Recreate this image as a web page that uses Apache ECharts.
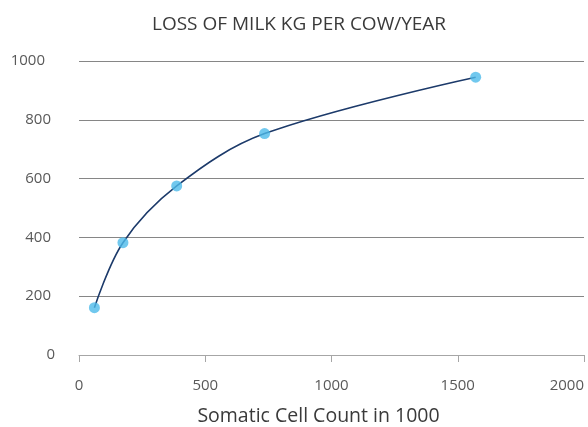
<!DOCTYPE html>
<html>
<head>
<meta charset="utf-8">
<script src="https://cdn.jsdelivr.net/npm/echarts@6/dist/echarts.min.js"></script>
<style>
html,body{margin:0;padding:0;background:#fff;}
#chart{width:588px;height:427px;}
</style>
</head>
<body>
<div id="chart"></div>
<script>
const chartTitle = 'LOSS OF MILK KG PER COW/YEAR';
const xAxisName = 'Somatic Cell Count in 1000';
const somaticCells = [61, 174, 387, 735, 1571];
const milkLoss = [161, 382, 575, 753, 945];
const xTicks = [0, 500, 1000, 1500, 2000];
const yTicks = [0, 200, 400, 600, 800, 1000];

const points = somaticCells.map((x, i) => [x, milkLoss[i]]);
const font = "'Open Sans', 'Noto Sans', sans-serif";

const chart = echarts.init(document.getElementById('chart'), null, {renderer: 'canvas'});
chart.setOption({
  animation: false,
  backgroundColor: '#ffffff',
  title: {
    text: chartTitle,
    left: 147,
    top: 10,
    textStyle: {fontFamily: font, fontSize: 19, fontWeight: 'normal', color: '#3a3a3a'}
  },
  grid: {left: 79, right: 4, top: 61, bottom: 72, containLabel: false, outerBoundsMode: 'none'},
  xAxis: {
    type: 'value',
    min: xTicks[0], max: xTicks[xTicks.length - 1], interval: 500,
    name: xAxisName,
    nameLocation: 'middle',
    nameGap: 51,
    nameTextStyle: {fontFamily: font, fontSize: 19.5, color: '#3a3a3a', padding: [0, 26, 0, 0]},
    axisLine: {show: true, lineStyle: {color: '#a6a6a6', width: 1}},
    axisTick: {show: true, length: 7, lineStyle: {color: '#a6a6a6'}},
    axisLabel: {fontFamily: font, fontSize: 15, color: '#595959', margin: 23, alignMaxLabel: 'right', formatter: v => String(v)},
    splitLine: {show: false}
  },
  yAxis: {
    type: 'value',
    min: yTicks[0], max: yTicks[yTicks.length - 1], interval: 200,
    axisLine: {show: false},
    axisTick: {show: false},
    axisLabel: {
      fontFamily: font, fontSize: 15, color: '#595959', margin: 24,
      formatter: v => v === 0 ? '{z|0}' : (v >= 1000 ? '{k|' + v + '}' : '{h|' + v + '}'),
      rich: {
        z: {fontFamily: font, fontSize: 15, color: '#595959'},
        h: {fontFamily: font, fontSize: 15, color: '#595959', padding: [0, 4, 0, 0]},
        k: {fontFamily: font, fontSize: 15, color: '#595959', padding: [0, 10, 0, 0]}
      }
    },
    splitLine: {show: true, lineStyle: {color: '#868686', width: 1}}
  },
  series: [
    {
      type: 'line',
      data: points,
      smooth: 0.35,
      showSymbol: false,
      lineStyle: {color: '#1c3a6a', width: 1.6},
      z: 2
    },
    {
      type: 'scatter',
      data: points,
      symbolSize: 11,
      itemStyle: {color: '#4ebaea'},
      z: 3
    }
  ]
});
</script>
</body>
</html>
